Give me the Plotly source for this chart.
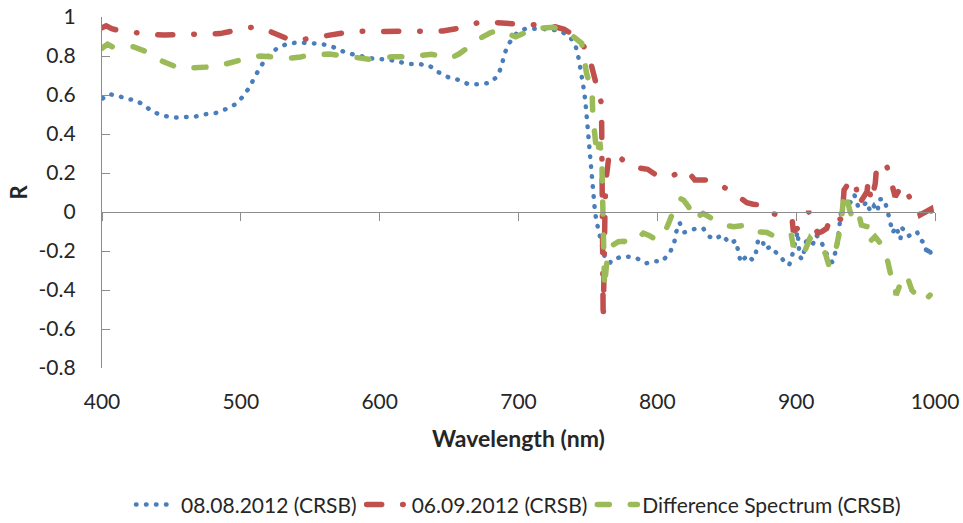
import plotly.graph_objects as go

# ---- data ----
wl_0808 = [400.5, 405, 412, 418, 424, 430, 436.5, 444, 452.5, 460, 467, 474, 482, 489, 496, 502,
           506.5, 510.5, 515, 520, 526, 533.5, 541.5, 549.5, 557, 565, 572.5, 580.5, 588, 596, 604,
           612, 620, 628, 635.5, 642, 649.5, 656.5, 664, 671.5, 679, 685, 688, 690, 693.5, 698.5,
           705, 715, 725, 730, 737, 741, 743.5, 745, 746.5, 747.5, 748.5, 749.2, 750, 750.5, 751,
           751.6, 752.3, 753.4, 754, 755.2, 756.8, 758.5, 760.5, 762, 764, 767, 774.5, 781.5, 787,
           792, 798, 803, 808.5, 812, 813.5, 816, 819.5, 824.5, 828.5, 833, 837.5, 841, 847, 852,
           856.5, 858.5, 860, 865, 868.5, 871, 872.5, 875.5, 877.5, 881.5, 887, 890, 893, 895,
           897.5, 901, 902.5, 904.5, 908, 911.5, 914.5, 918, 921.5, 926, 928, 929.5, 932.5, 935.5,
           939.5, 942, 944.5, 948, 950.5, 953.5, 956, 958.5, 960, 963.5, 966, 967.5, 969.5, 972,
           975, 976.5, 981, 987, 989.5, 993, 994, 996, 997.5, 1000]
r_0808 = [0.583, 0.605, 0.595, 0.579, 0.574, 0.549, 0.514, 0.494, 0.484, 0.489, 0.489, 0.501, 0.508,
          0.527, 0.552, 0.595, 0.643, 0.699, 0.754, 0.802, 0.839, 0.863, 0.870, 0.865, 0.863, 0.851,
          0.826, 0.809, 0.797, 0.785, 0.783, 0.774, 0.759, 0.759, 0.752, 0.718, 0.691, 0.678, 0.655,
          0.655, 0.662, 0.696, 0.754, 0.814, 0.868, 0.916, 0.940, 0.940, 0.934, 0.930, 0.899, 0.856,
          0.783, 0.725, 0.668, 0.609, 0.540, 0.480, 0.420, 0.361, 0.301, 0.236, 0.173, 0.113, 0.053,
          -0.007, -0.067, -0.12, -0.18, -0.25, -0.289, -0.246, -0.229, -0.229, -0.243, -0.263,
          -0.251, -0.255, -0.215, -0.164, -0.104, -0.055, -0.104, -0.092, -0.084, -0.084, -0.126,
          -0.14, -0.118, -0.161, -0.147, -0.207, -0.258, -0.221, -0.246, -0.209, -0.147, -0.14,
          -0.191, -0.178, -0.215, -0.241, -0.268, -0.272, -0.212, -0.101, -0.229, -0.243, -0.123,
          -0.174, -0.118, -0.152, -0.209, -0.258, -0.212, -0.174, 0.010, 0.062, 0.048, 0.087, 0.031,
          0.024, 0.053, 0.002, 0.031, 0.002, 0.065, 0.065, 0.0, -0.05, -0.106, -0.075, -0.14, -0.084,
          -0.123, -0.101, -0.144, -0.161, -0.221, -0.178, -0.238, -0.238]

wl_0609 = [400, 403, 407, 415, 426, 435, 445, 457, 467, 477, 485, 493, 502, 510, 518, 525, 531, 537,
           545, 553.5, 561, 568, 582, 598.5, 615, 630, 645.5, 655, 661.5, 667, 673.5, 681, 688.5,
           696, 703.5, 711, 718, 725, 733, 739.5, 743, 747, 751.5, 755, 758, 759.8, 760, 760.3,
           760.6, 760.8, 761, 762.4, 763, 765, 766, 770, 775, 779, 786, 793, 797, 801, 806, 812,
           817, 821, 824, 827, 831, 835.5, 841, 846.5, 850, 853.5, 859, 864.5, 869, 873.5, 877,
           880, 884, 887.5, 893, 897, 898, 900, 902, 905, 907, 909, 912, 915.5, 918.5, 922, 925.5,
           929, 933, 934.5, 937, 940.5, 942.5, 945, 948, 951, 952, 954, 957, 958, 961, 965, 967.5,
           970, 971.3, 974, 977.3, 982, 987, 989.3, 993, 997, 1000]
r_0609 = [0.945, 0.955, 0.94, 0.925, 0.919, 0.91, 0.908, 0.91, 0.913, 0.915, 0.915, 0.927, 0.94,
          0.95, 0.935, 0.913, 0.89, 0.878, 0.885, 0.896, 0.905, 0.916, 0.928, 0.926, 0.925, 0.925,
          0.928, 0.94, 0.95, 0.963, 0.977, 0.975, 0.971, 0.965, 0.96, 0.962, 0.96, 0.952, 0.937,
          0.908, 0.885, 0.85, 0.78, 0.67, 0.6, 0.557, 0.446, 0.2, -0.05, -0.34, -0.56, 0.05, 0.164,
          0.28, 0.30, 0.30, 0.27, 0.241, 0.226, 0.219, 0.20, 0.181, 0.185, 0.19, 0.205, 0.215, 0.19,
          0.164, 0.164, 0.164, 0.148, 0.133, 0.12, 0.104, 0.08, 0.048, 0.04, 0.036, 0.02, -0.002,
          -0.01, -0.015, -0.022, -0.032, -0.101, -0.09, -0.072, -0.06, -0.03, 0.002, -0.05, -0.109,
          -0.10, -0.084, -0.015, -0.03, -0.041, 0.113, 0.14, 0.164, 0.164, 0.036, 0.07, 0.104,
          0.164, 0.053, 0.147, 0.241, 0.25, 0.241, 0.181, 0.1, 0.078, 0.11, 0.138, 0.07, 0.036,
          -0.015, 0.0, 0.015, -0.092]

wl_diff = [400, 404, 408, 415, 422.5, 434, 439, 444, 456, 463, 470, 481.5, 487, 493.5, 500, 507,
           514, 521, 535, 543, 550, 564, 571, 579, 593, 600, 609, 621, 629, 637.5, 651, 657, 664,
           673.5, 680, 687, 693, 698, 705, 712, 725, 732, 738, 745.5, 749, 753, 753.5, 755, 756.5,
           758.5, 760, 760.3, 760.6, 761, 761.5, 762, 763, 764.5, 766, 772, 776, 781.5, 790, 794,
           799.5, 805.5, 808, 810.5, 816.5, 819, 822.5, 827, 830, 833, 839, 843, 848, 855, 860,
           864.5, 871.5, 875, 879, 887, 892, 896.5, 898, 901.5, 906.5, 910, 915, 918, 921, 923.5,
           925.5, 929, 932.5, 934, 935.5, 938.5, 942, 945.5, 947, 951, 952, 956.8, 961.6, 966, 969,
           970.5, 972, 976, 979.5, 983.3, 987, 991.5, 996.5]
r_diff = [0.84, 0.86, 0.845, 0.845, 0.848, 0.817, 0.79, 0.771, 0.737, 0.74, 0.742, 0.745, 0.755,
          0.768, 0.775, 0.793, 0.80, 0.796, 0.788, 0.795, 0.805, 0.81, 0.804, 0.796, 0.783, 0.79,
          0.796, 0.796, 0.80, 0.809, 0.788, 0.81, 0.845, 0.895, 0.92, 0.933, 0.912, 0.899, 0.92,
          0.942, 0.947, 0.93, 0.908, 0.865, 0.711, 0.617, 0.497, 0.404, 0.29, 0.36, 0.28, 0.17,
          0.05, -0.11, -0.26, -0.39, -0.30, -0.2, -0.178, -0.152, -0.15, -0.16, -0.109, -0.12,
          -0.144, -0.101, -0.06, -0.015, 0.07, 0.06, 0.027, -0.041, -0.02, -0.007, -0.032, -0.05,
          -0.067, -0.075, -0.07, -0.067, -0.101, -0.1, -0.105, -0.135, -0.125, -0.118, -0.178,
          -0.144, -0.195, -0.135, -0.178, -0.19, -0.212, -0.272, -0.246, -0.178, -0.058, 0.07,
          0.104, 0.01, -0.058, -0.024, -0.067, -0.075, -0.16, -0.126, -0.169, -0.255, -0.349,
          -0.35, -0.426, -0.35, -0.323, -0.40, -0.43, -0.46, -0.426]

series_names = ["08.08.2012 (CRSB)", "06.09.2012 (CRSB)", "Difference Spectrum (CRSB)"]

x_ticks = [400, 500, 600, 700, 800, 900, 1000]
x_ticktext = ["400", "500", "600", "700", "800", "900", "1000"]
y_ticks = [-0.8, -0.6, -0.4, -0.2, 0, 0.2, 0.4, 0.6, 0.8, 1]
y_ticktext = ["-0.8", "-0.6", "-0.4", "-0.2", "0", "0.2", "0.4", "0.6", "0.8", "1"]

FONT = "Lato, Carlito, Calibri, sans-serif"
AX = "#8C8C8C"

fig = go.Figure()
# invisible helper so the zero-crossing category axis (x2) gets drawn
fig.add_trace(go.Scatter(x=[None], y=[None], xaxis="x2", mode="lines", showlegend=False,
                         hoverinfo="skip"))
fig.add_trace(go.Scatter(x=wl_0808, y=r_0808, mode="lines", name=series_names[0],
                         line=dict(color="#4A7EBB", width=4.5, dash="0.5px,9.5px")))
fig.add_trace(go.Scatter(x=wl_0609, y=r_0609, mode="lines", name=series_names[1],
                         line=dict(color="#C0504D", width=5.5, dash="15px,21px,0.5px,21px")))
fig.add_trace(go.Scatter(x=wl_diff, y=r_diff, mode="lines", name=series_names[2],
                         line=dict(color="#9BBB59", width=5.5, dash="12px,21px")))

fig.update_layout(
    width=963, height=523,
    margin=dict(l=102, r=28, t=17, b=155, autoexpand=False),
    paper_bgcolor="white", plot_bgcolor="white",
    font=dict(family=FONT, color="#262626", size=21),
    showlegend=True,
    legend=dict(orientation="h", x=0.5, xanchor="center", y=-0.39, yanchor="middle",
                font=dict(size=21, color="#262626"), itemwidth=40,
                tracegroupgap=0, bgcolor="rgba(0,0,0,0)"),
    xaxis=dict(range=[400, 1000], tickvals=x_ticks, ticktext=x_ticktext, showline=False,
               showgrid=False, zeroline=False, ticks="", ticklabelstandoff=19,
               tickfont=dict(size=21)),
    xaxis2=dict(range=[400, 1000], overlaying="x", anchor="free",
                position=0.8 / 1.8, showline=True, linecolor=AX, linewidth=1.3,
                tickvals=x_ticks, ticks="outside", ticklen=8, tickcolor=AX, tickwidth=1.3,
                showticklabels=False, showgrid=False, zeroline=False),
    yaxis=dict(range=[-0.8, 1], tickvals=y_ticks, ticktext=y_ticktext, showline=True,
               linecolor=AX, linewidth=1.3, ticks="inside", ticklen=8, tickcolor=AX,
               tickwidth=1.3, showgrid=False, zeroline=False, ticklabelstandoff=21,
               tickfont=dict(size=21)),
)

fig.add_annotation(text="<b>Wavelength (nm)</b>", xref="paper", yref="paper", x=0.5, y=0,
                   yshift=-70, showarrow=False, font=dict(size=23, color="#262626"),
                   yanchor="middle")
fig.add_annotation(text="<b>R</b>", xref="paper", yref="paper", x=0, y=0.5, xshift=-84,
                   showarrow=False, textangle=-90, font=dict(size=22, color="#262626"),
                   xanchor="center", yanchor="middle")

post = ("var gd=document.getElementById('{plot_id}');"
        "function rc(){gd.querySelectorAll('path.js-line').forEach(function(p){"
        "p.style.strokeLinecap='round';});}"
        "rc();gd.on('plotly_afterplot',rc);")

fig.write_html("out.html", post_script=post)
